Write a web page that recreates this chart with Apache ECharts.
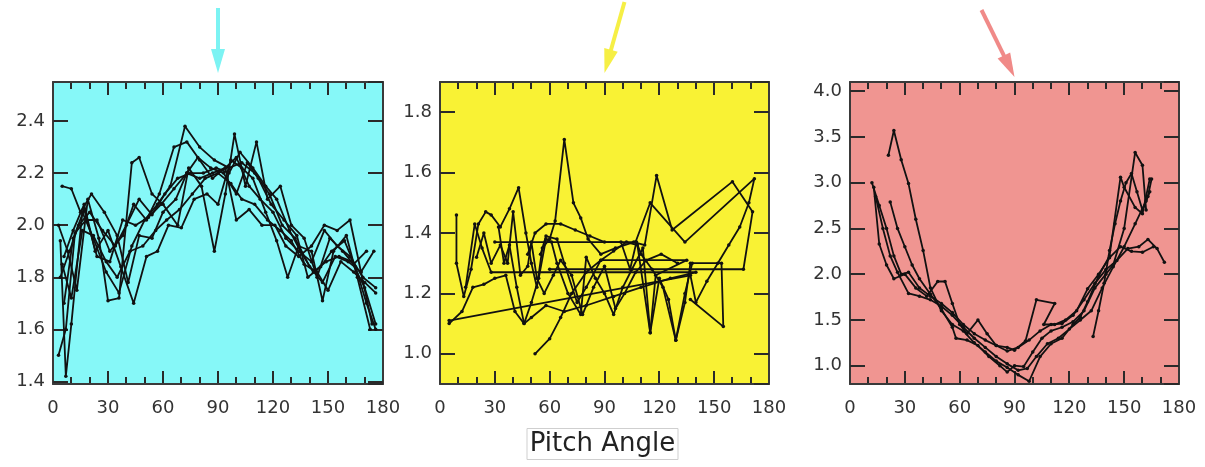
<!DOCTYPE html>
<html>
<head>
<meta charset="utf-8">
<script src="https://cdn.jsdelivr.net/npm/echarts@6/dist/echarts.min.js"></script>
<style>
  html, body { margin: 0; padding: 0; background: #fff; }
  #chart { width: 1205px; height: 467px; }
</style>
</head>
<body>
<div id="chart"></div>
<script>
// Pitch-angle traces, [angle in degrees, value], in the order they were taken.
const cyanTraces = [
  [[4,1.94],[7,1.42],[10,1.62],[16,2.05],[22,1.95],[29,1.82],[36,1.74],[43,1.92],[50,2.02],[57,2.08],[64,2.15],[72,2.38],[80,2.30],[88,2.25],[96,2.22],[103,2.24],[110,2.20],[118,2.12],[125,2.00],[132,1.95],[140,1.84],[147,1.78],[154,1.88],[161,1.86],[168,1.82],[174,1.62]],
  [[5,2.15],[10,2.14],[15,2.05],[21,2.12],[28,2.05],[35,1.96],[41,1.78],[47,1.96],[54,1.95],[60,2.05],[67,2.10],[73,2.20],[80,2.18],[87,2.20],[94,2.22],[100,2.26],[107,2.15],[113,2.10],[120,2.05],[127,1.95],[134,1.90],[141,1.86],[148,1.98],[155,1.92],[162,1.88],[169,1.80],[176,1.76]],
  [[3,2.00],[8,1.90],[13,1.75],[19,2.10],[25,1.95],[30,1.71],[36,1.72],[43,2.24],[47,2.26],[54,2.12],[60,2.08],[68,2.00],[74,2.22],[81,2.15],[88,1.90],[94,2.12],[99,2.35],[105,2.15],[111,2.32],[117,2.10],[124,2.15],[130,2.00],[137,1.95],[144,1.80],[151,1.95],[158,1.90],[164,1.85],[171,1.90]],
  [[6,1.88],[11,1.98],[17,2.08],[23,1.90],[30,1.98],[37,1.84],[44,1.70],[51,1.88],[57,1.90],[63,2.00],[70,1.99],[77,2.10],[84,2.12],[90,2.08],[97,2.25],[103,2.22],[109,2.18],[116,2.05],[122,1.94],[128,1.80],[134,1.92],[141,1.90],[147,1.71],[153,1.90],[160,1.96],[166,1.80],[173,1.60]],
  [[4,1.80],[9,1.90],[14,2.00],[20,2.05],[27,1.98],[34,1.92],[40,2.00],[47,2.10],[54,2.04],[61,2.12],[68,2.18],[75,2.20],[82,2.20],[89,2.22],[96,2.20],[102,2.28],[109,2.22],[116,2.15],[122,2.10],[129,1.98],[135,1.90],[142,1.82],[149,1.86],[156,1.88],[163,1.86],[170,1.76],[176,1.62]],
  [[3,1.50],[7,1.60],[12,1.97],[18,2.02],[24,2.02],[31,1.90],[38,1.96],[44,2.08],[51,2.02],[58,2.12],[66,2.30],[73,2.32],[80,2.25],[87,2.18],[94,2.22],[100,2.02],[107,2.06],[114,2.00],[121,2.00],[127,1.92],[134,1.88],[141,1.92],[148,2.00],[155,1.98],[162,2.02],[168,1.82],[175,1.90]],
  [[5,1.85],[10,1.72],[16,1.98],[22,1.96],[29,1.86],[35,1.80],[42,1.90],[49,1.92],[56,1.98],[62,2.02],[69,2.06],[76,2.12],[83,2.18],[90,2.20],[97,2.16],[103,2.10],[110,2.08],[117,2.02],[124,1.98],[130,1.94],[137,1.85],[144,1.82],[150,1.75],[157,1.86],[164,1.82],[170,1.78],[176,1.74]],
  [[6,1.70],[11,1.95],[17,2.06],[24,1.88],[31,1.86],[38,2.02],[45,2.00],[52,2.03],[59,2.08],[66,2.14],[73,2.20],[79,2.26],[86,2.22],[93,2.20],[100,2.12],[106,2.24],[112,2.18],[119,2.08],[126,2.02],[133,1.96],[139,1.80],[146,1.84],[152,1.90],[159,1.94],[165,1.84],[171,1.70],[176,1.60]]
];

const yellowTraces = [
  [[9,1.46],[9,1.30],[13,1.19],[17,1.28],[21,1.43],[25,1.47],[28,1.46],[33,1.42],[38,1.48],[43,1.55],[47,1.40],[50,1.30],[53,1.22],[56,1.35],[60,1.38],[63,1.44],[68,1.71],[73,1.50],[77,1.45],[81,1.38],[88,1.33],[96,1.35],[106,1.37],[112,1.36],[118.5,1.59],[127,1.41],[160,1.57],[171,1.47],[166,1.28],[60,1.28]],
  [[5,1.10],[12,1.14],[18,1.22],[24,1.23],[30,1.25],[36,1.26],[41,1.14],[46,1.10],[50,1.17],[54,1.25],[58,1.38],[61,1.37],[64,1.30],[70,1.20],[77,1.13],[80,1.32],[85,1.25],[90,1.20],[95,1.13],[100,1.22],[105,1.28],[111,1.35],[115,1.07],[120,1.25],[125,1.18],[129,1.045],[134,1.17],[137,1.30],[154,1.30],[155,1.09],[137,1.18]],
  [[5,1.11],[137,1.26],[140,1.17],[146,1.24],[152,1.30],[158,1.36],[164,1.42],[169,1.50],[172,1.58],[134,1.37],[115,1.50],[107,1.37],[30,1.37]],
  [[52,1.00],[60,1.05],[66,1.12],[72,1.20],[80,1.27],[88,1.31],[95,1.34],[102,1.37],[108,1.36],[115,1.07],[118,1.26],[135,1.31],[88,1.31],[80,1.22],[75,1.17],[68,1.30],[64,1.38],[58,1.39],[55,1.33]],
  [[48,1.33],[52,1.40],[58,1.43],[66,1.43],[74,1.41],[82,1.39],[90,1.37],[99,1.37],[104,1.28],[107.5,1.37],[110,1.33],[116,1.28],[122,1.22],[129,1.045],[134,1.20],[138,1.30]],
  [[14,1.22],[19,1.43],[23,1.35],[28,1.27],[140,1.27],[126,1.25],[110,1.22],[95,1.19],[80,1.16],[68,1.14],[58,1.16],[50,1.12],[46,1.10],[42,1.22],[38,1.36],[35,1.30],[32,1.42]],
  [[20,1.32],[24,1.40],[28,1.30],[33,1.36],[37,1.30],[40,1.47],[44,1.26],[48,1.29],[50,1.37],[53,1.25],[57,1.20],[62,1.26],[66,1.31],[72,1.26],[78,1.13],[84,1.22],[90,1.29],[96,1.15],[101,1.20],[107,1.27],[113,1.31],[121,1.33],[130,1.30]]
];

const redTraces = [
  [[12,3.00],[16,2.75],[20,2.50],[24,2.20],[28,2.00],[32,2.02],[38,1.85],[44,1.76],[50,1.68],[56,1.58],[62,1.45],[68,1.35],[74,1.28],[80,1.22],[86,1.16],[92,1.20],[98,1.28],[104,1.38],[110,1.45],[116,1.46],[122,1.55],[128,1.72],[134,1.90],[140,2.05],[146,2.15],[152,2.28],[158,2.30],[163,2.38],[168,2.28],[172,2.13]],
  [[13,2.95],[16,2.33],[20,2.10],[24,1.95],[30,2.00],[36,1.85],[42,1.76],[48,1.92],[52,1.92],[56,1.68],[60,1.45],[64,1.35],[70,1.50],[75,1.35],[80,1.22],[86,1.20],[90,1.17],[96,1.27],[102,1.72],[112,1.68],[106,1.45],[112,1.45],[118,1.50],[124,1.60],[130,1.84],[136,2.00],[142,2.18],[148,2.30],[154,2.25],[160,2.24],[166,2.30]],
  [[21,3.30],[24,3.57],[28,3.25],[32,2.99],[36,2.60],[40,2.26],[44,1.85],[50,1.60],[56,1.45],[62,1.38],[68,1.25],[74,1.15],[80,1.05],[86,0.98],[92,0.90],[98,0.83],[104,1.10],[110,1.24],[116,1.30],[122,1.45],[126,1.53],[130,1.70],[136,1.98],[142,2.20],[148,3.06],[150,2.95],[156,2.73],[160,2.66],[164,3.04]],
  [[22,2.79],[26,2.50],[30,2.30],[34,2.10],[38,1.95],[44,1.78],[50,1.62],[56,1.42],[58,1.30],[64,1.28],[70,1.22],[76,1.10],[82,1.00],[86,0.93],[90,1.00],[95,0.99],[100,1.15],[105,1.30],[110,1.38],[116,1.42],[122,1.48],[128,1.60],[134,1.85],[140,2.00],[144,2.10],[150,2.50],[156,3.33],[160,3.19],[162,2.70]],
  [[133,1.32],[136,1.60],[139,1.90],[142,2.26],[145,2.55],[148,2.80],[151,3.00],[154,3.10],[157,2.90],[160,2.70],[163,2.85],[165,3.04]],
  [[14,2.85],[18,2.50],[22,2.20],[26,2.02],[32,1.79],[38,1.76],[44,1.72],[50,1.65],[56,1.55],[62,1.42],[68,1.30],[74,1.20],[80,1.10],[86,1.02],[92,0.95],[97,0.97],[102,1.10],[108,1.24],[114,1.30],[120,1.40],[126,1.50],[132,1.60],[138,1.85],[144,2.08],[150,2.30],[156,2.55],[162,2.80],[164,2.90]]
];

// Axis ticks
const angleLabelStep = 30;
const angleTickMarks = [10, 20, 30, 40, 50, 60, 70, 80, 90, 100, 110, 120, 130, 140, 150, 160, 170];
const cyanYTicks = [1.4, 1.6, 1.8, 2.0, 2.2, 2.4];
const yellowYTicks = [1.0, 1.2, 1.4, 1.6, 1.8];
const redYTicks = [1.0, 1.5, 2.0, 2.5, 3.0, 3.5, 4.0];

const panels = [
  { traces: cyanTraces,   yMin: 1.39, yMax: 2.55, yTicks: cyanYTicks,   step: 0.2, fill: '#86F8F8', arrow: '#7CF3F3', left: 53,  width: 330, tail: [0, -65],  gap: 9 },
  { traces: yellowTraces, yMin: 0.90, yMax: 1.90, yTicks: yellowYTicks, step: 0.2, fill: '#F9F234', arrow: '#F6EF45', left: 440, width: 329, tail: [20, -71], gap: 9 },
  { traces: redTraces,    yMin: 0.80, yMax: 4.10, yTicks: redYTicks,   step: 0.5, fill: '#F09591', arrow: '#F08A88', left: 850, width: 329, tail: [-33, -67], gap: 5 }
];

const FONT = 'DejaVu Sans';
const INK = '#2a2a2a';

function frameLine() { return { show: true, onZero: false, lineStyle: { color: '#3a3a3a', width: 2 } }; }
function tickStyle(len) { return { show: true, inside: true, length: len, lineStyle: { color: INK, width: 2 } }; }

const grids = [], xAxes = [], yAxes = [], series = [];
panels.forEach((p, i) => {
  grids.push({ left: p.left, width: p.width, top: 82, height: 302, show: true,
               backgroundColor: p.fill, borderWidth: 0 });
  ['bottom', 'top'].forEach(pos => {
    xAxes.push({ gridIndex: i, type: 'value', position: pos, min: 0, max: 180, interval: angleLabelStep,
                 splitLine: { show: false }, axisLine: frameLine(), axisTick: { show: false },
                 axisLabel: pos === 'bottom'
                   ? { show: true, fontFamily: FONT, fontSize: 18, color: '#333', margin: 15 }
                   : { show: false } });
  });
  ['left', 'right'].forEach(pos => {
    yAxes.push({ gridIndex: i, type: 'value', position: pos, min: p.yMin, max: p.yMax,
                 splitNumber: Math.round((p.yMax - p.yMin) / p.step),
                 splitLine: { show: false }, axisLine: frameLine(), axisTick: tickStyle(15),
                 axisLabel: pos === 'left'
                   ? { show: true, fontFamily: FONT, fontSize: 18, color: '#333', margin: 8,
                       showMinLabel: false, showMaxLabel: false,
                       formatter: v => (p.yTicks.some(t => Math.abs(t - v) < 1e-6) ? v.toFixed(1) : '') }
                   : { show: false } });
  });
  p.traces.forEach(t => {
    series.push({ type: 'line', xAxisIndex: 2 * i, yAxisIndex: 2 * i, data: t,
                  symbol: 'circle', symbolSize: 3.5, showSymbol: true, silent: true,
                  lineStyle: { color: '#111', width: 1.8 }, itemStyle: { color: '#111' } });
  });
});

const chart = echarts.init(document.getElementById('chart'), null, { renderer: 'canvas' });
chart.setOption({
  animation: false,
  backgroundColor: '#fff',
  title: { text: 'Pitch Angle', left: 'center', top: 428, padding: [3, 3],
           borderColor: '#cfcfcf', borderWidth: 1,
           textStyle: { fontFamily: FONT, fontSize: 26, fontWeight: 'normal', color: '#222' } },
  grid: grids, xAxis: xAxes, yAxis: yAxes, series: series
});

// Inward angle ticks on the top and bottom frame, plus arrows pointing at 90 degrees
const decorations = [];
panels.forEach((p, i) => {
  const finder = { xAxisIndex: 2 * i, yAxisIndex: 2 * i };
  const corner = chart.convertToPixel(finder, [0, p.yMax]);
  const floor = chart.convertToPixel(finder, [0, p.yMin]);
  const topY = corner[1], bottomY = floor[1];
  const ticks = [];
  angleTickMarks.forEach(a => {
    const px = chart.convertToPixel(finder, [a, p.yMin]);
    const x = Math.round(px[0]);
    const len = a % angleLabelStep === 0 ? 13 : 7;
    ticks.push({ type: 'line', shape: { x1: x, y1: bottomY, x2: x, y2: bottomY - len },
                 style: { stroke: INK, lineWidth: 2 } });
    ticks.push({ type: 'line', shape: { x1: x, y1: topY, x2: x, y2: topY + len },
                 style: { stroke: INK, lineWidth: 2 } });
  });
  decorations.push({ type: 'group', silent: true, children: ticks });

  const pt = chart.convertToPixel(finder, [90, p.yMax]);
  const tip = [pt[0], pt[1] - p.gap];
  const start = [tip[0] + p.tail[0], tip[1] + p.tail[1]];
  const dx = tip[0] - start[0], dy = tip[1] - start[1];
  const len = Math.hypot(dx, dy), ux = dx / len, uy = dy / len;
  const neck = [tip[0] - ux * 24, tip[1] - uy * 24];
  const nx = -uy, ny = ux, hw = 7;
  decorations.push({ type: 'group', silent: true, children: [
    { type: 'line', shape: { x1: start[0], y1: start[1], x2: neck[0] + ux * 2, y2: neck[1] + uy * 2 },
      style: { stroke: p.arrow, lineWidth: 4 } },
    { type: 'polygon', shape: { points: [tip, [neck[0] + nx * hw, neck[1] + ny * hw], [neck[0] - nx * hw, neck[1] - ny * hw]] },
      style: { fill: p.arrow } }
  ] });
});
chart.setOption({ graphic: decorations });
</script>
</body>
</html>
